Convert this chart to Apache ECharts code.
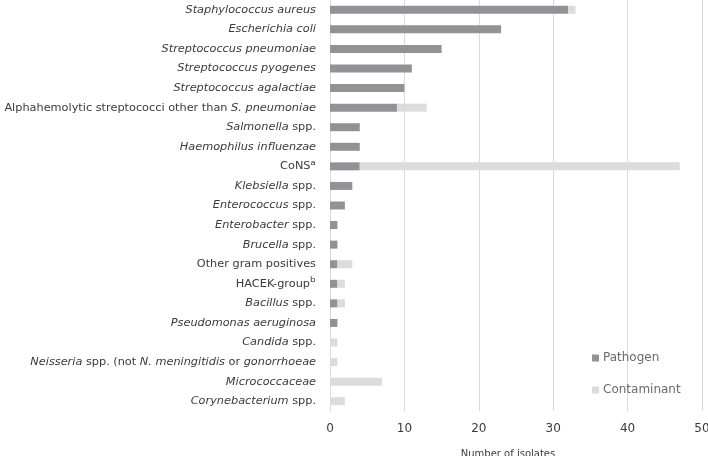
<!DOCTYPE html>
<html><head><meta charset="utf-8">
<script src="https://cdn.jsdelivr.net/npm/echarts@6/dist/echarts.min.js"></script>
<style>html,body{margin:0;padding:0;background:#fff}#c{width:708px;height:456px}</style>
</head><body><div id="c"></div>
<script>
var categories = [
  "Staphylococcus aureus",
  "Escherichia coli",
  "Streptococcus pneumoniae",
  "Streptococcus pyogenes",
  "Streptococcus agalactiae",
  "Alphahemolytic streptococci other than S. pneumoniae",
  "Salmonella spp.",
  "Haemophilus influenzae",
  "CoNSᵃ",
  "Klebsiella spp.",
  "Enterococcus spp.",
  "Enterobacter spp.",
  "Brucella spp.",
  "Other gram positives",
  "HACEK-groupᵇ",
  "Bacillus spp.",
  "Pseudomonas aeruginosa",
  "Candida spp.",
  "Neisseria spp. (not N. meningitidis or gonorrhoeae",
  "Micrococcaceae",
  "Corynebacterium spp."
];
// label markup (rich text) in same order
var labelMarkup = [
  "{i|Staphylococcus aureus}",
  "{i|Escherichia coli}",
  "{i|Streptococcus pneumoniae}",
  "{i|Streptococcus pyogenes}",
  "{i|Streptococcus agalactiae}",
  "{n|Alphahemolytic streptococci other than }{i|S. pneumoniae}",
  "{i|Salmonella}{n| spp.}",
  "{i|Haemophilus influenzae}",
  "{n|CoNS}{s|ᵃ}",
  "{i|Klebsiella}{n| spp.}",
  "{i|Enterococcus}{n| spp.}",
  "{i|Enterobacter}{n| spp.}",
  "{i|Brucella}{n| spp.}",
  "{n|Other gram positives}",
  "{n|HACEK-group}{s|ᵇ}",
  "{i|Bacillus}{n| spp.}",
  "{i|Pseudomonas aeruginosa}",
  "{i|Candida}{n| spp.}",
  "{i|Neisseria}{n| spp. (not }{i|N. meningitidis}{n| or }{i|gonorrhoeae}",
  "{i|Micrococcaceae}",
  "{i|Corynebacterium}{n| spp.}"
];
var pathogen =    [32, 23, 15, 11, 10, 9, 4, 4, 4, 3, 2, 1, 1, 1, 1, 1, 1, 0, 0, 0, 0];
var contaminant = [1, 0, 0, 0, 0, 4, 0, 0, 43, 0, 0, 0, 0, 2, 1, 1, 0, 1, 1, 7, 2];
var xTicks = {min: 0, max: 50, interval: 10};
var seriesNames = ["Pathogen", "Contaminant"];

var FONT = "DejaVu Sans";
var labelColor = "#3a3a3a";
var chart = echarts.init(document.getElementById('c'), null, {renderer: 'canvas'});
chart.setOption({
  animation: false,
  title: {
    text: "Number of isolates", left: 503, top: 444, textAlign: 'center',
    textStyle: {fontFamily: FONT, fontSize: 10, fontWeight: 'normal', color: labelColor}
  },
  legend: {
    orient: 'vertical', left: 587, top: 347, itemGap: 20,
    itemWidth: 7, itemHeight: 7, icon: 'rect',
    textStyle: {fontFamily: FONT, fontSize: 12, color: '#6a6a6a', padding: [0,0,0,-1]},
    data: seriesNames
  },
  grid: {left: 330, right: 6, top: 0, bottom: 45, containLabel: false, outerBoundsMode: 'none'},
  xAxis: {
    type: 'value', min: xTicks.min, max: xTicks.max, interval: xTicks.interval,
    axisLine: {show: false}, axisTick: {show: false},
    splitLine: {show: true, lineStyle: {color: '#dadada', width: 1}},
    axisLabel: {fontFamily: FONT, fontSize: 12, color: labelColor, margin: 12}
  },
  yAxis: {
    type: 'category', inverse: true, data: categories,
    axisLine: {show: true, lineStyle: {color: '#dadada'}}, axisTick: {show: false},
    axisLabel: {
      margin: 14, interval: 0,
      formatter: function (v, idx) { return labelMarkup[idx]; },
      rich: {
        i: {fontFamily: FONT, fontSize: 11.3, fontStyle: 'italic', color: labelColor},
        n: {fontFamily: FONT, fontSize: 11.3, color: labelColor},
        s: {fontFamily: FONT, fontSize: 14, color: labelColor}
      }
    }
  },
  series: [
    {name: seriesNames[0], type: 'bar', stack: 't', barWidth: 8, data: pathogen,
     itemStyle: {color: '#929296'}},
    {name: seriesNames[1], type: 'bar', stack: 't', barWidth: 8, data: contaminant,
     itemStyle: {color: '#dcdcde'}}
  ]
});
</script></body></html>
